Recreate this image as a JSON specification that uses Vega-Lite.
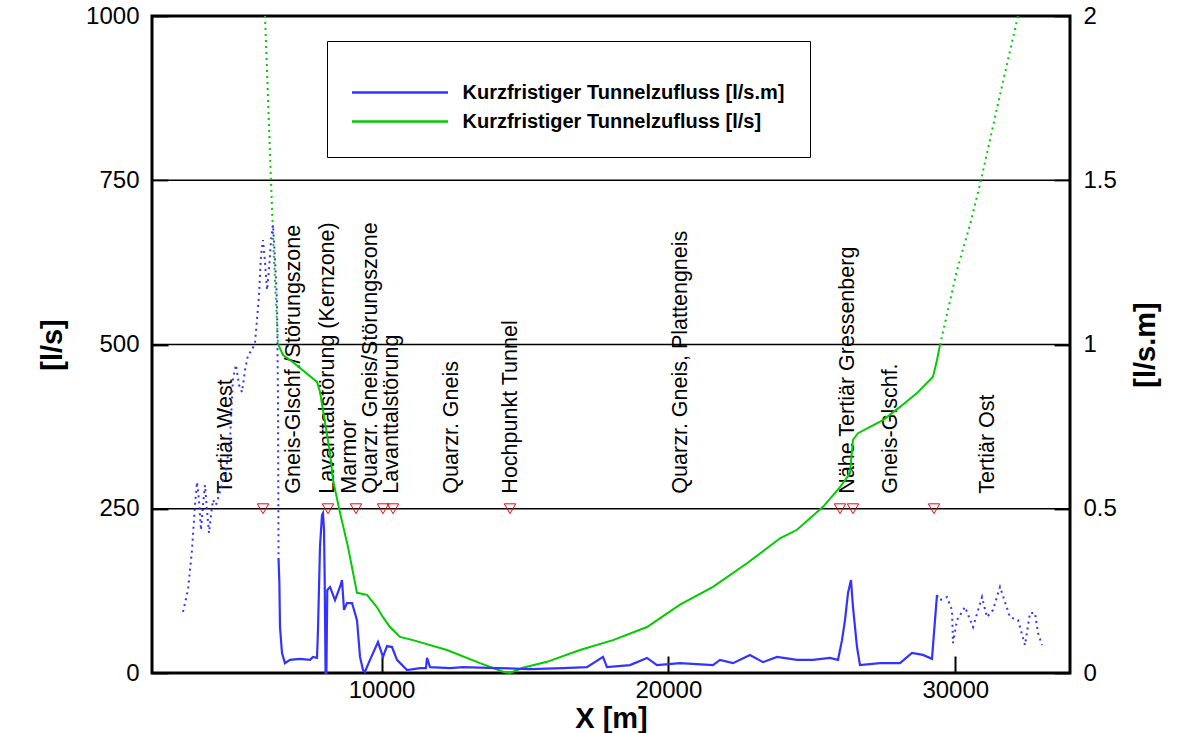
{
  "$schema": "https://vega.github.io/schema/vega-lite/v6.json",
  "width": 918,
  "height": 657,
  "autosize": {"type": "none"},
  "padding": {"left": 152, "top": 16, "right": 132, "bottom": 60},
  "background": "white",
  "datasets": {
    "green": [
      {"x": 5939, "y": 1000, "zone": "Tertiär West"},
      {"x": 6148, "y": 750, "zone": "Tertiär West"},
      {"x": 6253, "y": 629, "zone": "Tertiär West"},
      {"x": 6392, "y": 501, "zone": "Tertiär West"},
      {"x": 6392, "y": 501, "zone": "Kristallin"},
      {"x": 6567, "y": 484, "zone": "Kristallin"},
      {"x": 6915, "y": 473, "zone": "Kristallin"},
      {"x": 7752, "y": 443, "zone": "Kristallin"},
      {"x": 7856, "y": 428, "zone": "Kristallin"},
      {"x": 8205, "y": 335, "zone": "Kristallin"},
      {"x": 8309, "y": 294, "zone": "Kristallin"},
      {"x": 8553, "y": 244, "zone": "Kristallin"},
      {"x": 8832, "y": 192, "zone": "Kristallin"},
      {"x": 9146, "y": 122, "zone": "Kristallin"},
      {"x": 9494, "y": 119, "zone": "Kristallin"},
      {"x": 9843, "y": 100, "zone": "Kristallin"},
      {"x": 10052, "y": 85, "zone": "Kristallin"},
      {"x": 10296, "y": 70, "zone": "Kristallin"},
      {"x": 10645, "y": 55, "zone": "Kristallin"},
      {"x": 11098, "y": 50, "zone": "Kristallin"},
      {"x": 12283, "y": 35, "zone": "Kristallin"},
      {"x": 13433, "y": 15, "zone": "Kristallin"},
      {"x": 14235, "y": 2, "zone": "Kristallin"},
      {"x": 14479, "y": 0, "zone": "Kristallin"},
      {"x": 14932, "y": 8, "zone": "Kristallin"},
      {"x": 15769, "y": 17, "zone": "Kristallin"},
      {"x": 16919, "y": 35, "zone": "Kristallin"},
      {"x": 18070, "y": 50, "zone": "Kristallin"},
      {"x": 19255, "y": 70, "zone": "Kristallin"},
      {"x": 20405, "y": 104, "zone": "Kristallin"},
      {"x": 21555, "y": 131, "zone": "Kristallin"},
      {"x": 22741, "y": 167, "zone": "Kristallin"},
      {"x": 23891, "y": 205, "zone": "Kristallin"},
      {"x": 24484, "y": 218, "zone": "Kristallin"},
      {"x": 25390, "y": 253, "zone": "Kristallin"},
      {"x": 25982, "y": 283, "zone": "Kristallin"},
      {"x": 26331, "y": 304, "zone": "Kristallin"},
      {"x": 26435, "y": 355, "zone": "Kristallin"},
      {"x": 26610, "y": 365, "zone": "Kristallin"},
      {"x": 27481, "y": 385, "zone": "Kristallin"},
      {"x": 28074, "y": 405, "zone": "Kristallin"},
      {"x": 28666, "y": 426, "zone": "Kristallin"},
      {"x": 29224, "y": 451, "zone": "Kristallin"},
      {"x": 29363, "y": 476, "zone": "Kristallin"},
      {"x": 29468, "y": 499, "zone": "Kristallin"},
      {"x": 29468, "y": 499, "zone": "Tertiär Ost"},
      {"x": 30061, "y": 613, "zone": "Tertiär Ost"},
      {"x": 30514, "y": 682, "zone": "Tertiär Ost"},
      {"x": 30897, "y": 750, "zone": "Tertiär Ost"},
      {"x": 31560, "y": 880, "zone": "Tertiär Ost"},
      {"x": 32187, "y": 1000, "zone": "Tertiär Ost"}
    ],
    "blue": [
      {"x": 3081, "y": 0.186, "zone": "Tertiär West"},
      {"x": 3255, "y": 0.253, "zone": "Tertiär West"},
      {"x": 3394, "y": 0.374, "zone": "Tertiär West"},
      {"x": 3499, "y": 0.511, "zone": "Tertiär West"},
      {"x": 3569, "y": 0.581, "zone": "Tertiär West"},
      {"x": 3638, "y": 0.527, "zone": "Tertiär West"},
      {"x": 3708, "y": 0.435, "zone": "Tertiär West"},
      {"x": 3778, "y": 0.511, "zone": "Tertiär West"},
      {"x": 3847, "y": 0.572, "zone": "Tertiär West"},
      {"x": 3917, "y": 0.496, "zone": "Tertiär West"},
      {"x": 3987, "y": 0.426, "zone": "Tertiär West"},
      {"x": 4057, "y": 0.481, "zone": "Tertiär West"},
      {"x": 4126, "y": 0.527, "zone": "Tertiär West"},
      {"x": 4231, "y": 0.511, "zone": "Tertiär West"},
      {"x": 4335, "y": 0.542, "zone": "Tertiär West"},
      {"x": 4440, "y": 0.572, "zone": "Tertiär West"},
      {"x": 4579, "y": 0.618, "zone": "Tertiär West"},
      {"x": 4719, "y": 0.709, "zone": "Tertiär West"},
      {"x": 4823, "y": 0.898, "zone": "Tertiär West"},
      {"x": 4928, "y": 0.938, "zone": "Tertiär West"},
      {"x": 5033, "y": 0.877, "zone": "Tertiär West"},
      {"x": 5137, "y": 0.855, "zone": "Tertiär West"},
      {"x": 5242, "y": 0.922, "zone": "Tertiär West"},
      {"x": 5346, "y": 0.968, "zone": "Tertiär West"},
      {"x": 5486, "y": 0.983, "zone": "Tertiär West"},
      {"x": 5590, "y": 1.005, "zone": "Tertiär West"},
      {"x": 5660, "y": 1.075, "zone": "Tertiär West"},
      {"x": 5730, "y": 1.151, "zone": "Tertiär West"},
      {"x": 5800, "y": 1.272, "zone": "Tertiär West"},
      {"x": 5869, "y": 1.318, "zone": "Tertiär West"},
      {"x": 5939, "y": 1.251, "zone": "Tertiär West"},
      {"x": 6009, "y": 1.166, "zone": "Tertiär West"},
      {"x": 6078, "y": 1.227, "zone": "Tertiär West"},
      {"x": 6148, "y": 1.318, "zone": "Tertiär West"},
      {"x": 6218, "y": 1.364, "zone": "Tertiär West"},
      {"x": 6288, "y": 1.257, "zone": "Tertiär West"},
      {"x": 6357, "y": 1.135, "zone": "Tertiär West"},
      {"x": 6392, "y": 0.831, "zone": "Tertiär West"},
      {"x": 6410, "y": 0.35, "zone": "Tertiär West"},
      {"x": 6410, "y": 0.35, "zone": "Kristallin"},
      {"x": 6440, "y": 0.274, "zone": "Kristallin"},
      {"x": 6462, "y": 0.14, "zone": "Kristallin"},
      {"x": 6532, "y": 0.061, "zone": "Kristallin"},
      {"x": 6636, "y": 0.03, "zone": "Kristallin"},
      {"x": 6810, "y": 0.04, "zone": "Kristallin"},
      {"x": 7159, "y": 0.043, "zone": "Kristallin"},
      {"x": 7508, "y": 0.04, "zone": "Kristallin"},
      {"x": 7612, "y": 0.049, "zone": "Kristallin"},
      {"x": 7752, "y": 0.046, "zone": "Kristallin"},
      {"x": 7786, "y": 0.131, "zone": "Kristallin"},
      {"x": 7856, "y": 0.384, "zone": "Kristallin"},
      {"x": 7926, "y": 0.481, "zone": "Kristallin"},
      {"x": 7961, "y": 0.487, "zone": "Kristallin"},
      {"x": 7996, "y": 0.435, "zone": "Kristallin"},
      {"x": 8020, "y": 0.283, "zone": "Kristallin"},
      {"x": 8050, "y": 0.0, "zone": "Kristallin"},
      {"x": 8080, "y": 0.0, "zone": "Kristallin"},
      {"x": 8110, "y": 0.253, "zone": "Kristallin"},
      {"x": 8205, "y": 0.262, "zone": "Kristallin"},
      {"x": 8379, "y": 0.222, "zone": "Kristallin"},
      {"x": 8553, "y": 0.262, "zone": "Kristallin"},
      {"x": 8623, "y": 0.283, "zone": "Kristallin"},
      {"x": 8693, "y": 0.192, "zone": "Kristallin"},
      {"x": 8797, "y": 0.213, "zone": "Kristallin"},
      {"x": 8972, "y": 0.213, "zone": "Kristallin"},
      {"x": 9146, "y": 0.161, "zone": "Kristallin"},
      {"x": 9251, "y": 0.049, "zone": "Kristallin"},
      {"x": 9355, "y": 0.009, "zone": "Kristallin"},
      {"x": 9420, "y": 0.003, "zone": "Kristallin"},
      {"x": 9599, "y": 0.04, "zone": "Kristallin"},
      {"x": 9878, "y": 0.094, "zone": "Kristallin"},
      {"x": 10052, "y": 0.049, "zone": "Kristallin"},
      {"x": 10192, "y": 0.082, "zone": "Kristallin"},
      {"x": 10366, "y": 0.079, "zone": "Kristallin"},
      {"x": 10540, "y": 0.04, "zone": "Kristallin"},
      {"x": 10889, "y": 0.009, "zone": "Kristallin"},
      {"x": 11342, "y": 0.015, "zone": "Kristallin"},
      {"x": 11550, "y": 0.015, "zone": "Kristallin"},
      {"x": 11586, "y": 0.046, "zone": "Kristallin"},
      {"x": 11691, "y": 0.018, "zone": "Kristallin"},
      {"x": 12388, "y": 0.015, "zone": "Kristallin"},
      {"x": 12841, "y": 0.018, "zone": "Kristallin"},
      {"x": 14026, "y": 0.015, "zone": "Kristallin"},
      {"x": 15176, "y": 0.012, "zone": "Kristallin"},
      {"x": 16327, "y": 0.015, "zone": "Kristallin"},
      {"x": 17163, "y": 0.018, "zone": "Kristallin"},
      {"x": 17721, "y": 0.049, "zone": "Kristallin"},
      {"x": 17860, "y": 0.018, "zone": "Kristallin"},
      {"x": 18662, "y": 0.024, "zone": "Kristallin"},
      {"x": 19255, "y": 0.046, "zone": "Kristallin"},
      {"x": 19603, "y": 0.024, "zone": "Kristallin"},
      {"x": 20405, "y": 0.03, "zone": "Kristallin"},
      {"x": 21555, "y": 0.024, "zone": "Kristallin"},
      {"x": 21799, "y": 0.04, "zone": "Kristallin"},
      {"x": 22252, "y": 0.03, "zone": "Kristallin"},
      {"x": 22845, "y": 0.055, "zone": "Kristallin"},
      {"x": 23298, "y": 0.033, "zone": "Kristallin"},
      {"x": 23786, "y": 0.049, "zone": "Kristallin"},
      {"x": 24484, "y": 0.04, "zone": "Kristallin"},
      {"x": 25041, "y": 0.04, "zone": "Kristallin"},
      {"x": 25634, "y": 0.046, "zone": "Kristallin"},
      {"x": 25912, "y": 0.04, "zone": "Kristallin"},
      {"x": 26052, "y": 0.1, "zone": "Kristallin"},
      {"x": 26157, "y": 0.161, "zone": "Kristallin"},
      {"x": 26262, "y": 0.244, "zone": "Kristallin"},
      {"x": 26366, "y": 0.283, "zone": "Kristallin"},
      {"x": 26435, "y": 0.201, "zone": "Kristallin"},
      {"x": 26575, "y": 0.079, "zone": "Kristallin"},
      {"x": 26679, "y": 0.024, "zone": "Kristallin"},
      {"x": 27377, "y": 0.03, "zone": "Kristallin"},
      {"x": 28074, "y": 0.03, "zone": "Kristallin"},
      {"x": 28492, "y": 0.061, "zone": "Kristallin"},
      {"x": 28875, "y": 0.055, "zone": "Kristallin"},
      {"x": 29189, "y": 0.043, "zone": "Kristallin"},
      {"x": 29259, "y": 0.122, "zone": "Kristallin"},
      {"x": 29363, "y": 0.237, "zone": "Kristallin"},
      {"x": 29363, "y": 0.237, "zone": "Tertiär Ost"},
      {"x": 29468, "y": 0.222, "zone": "Tertiär Ost"},
      {"x": 29712, "y": 0.231, "zone": "Tertiär Ost"},
      {"x": 29886, "y": 0.192, "zone": "Tertiär Ost"},
      {"x": 29921, "y": 0.091, "zone": "Tertiär Ost"},
      {"x": 30061, "y": 0.161, "zone": "Tertiär Ost"},
      {"x": 30340, "y": 0.201, "zone": "Tertiär Ost"},
      {"x": 30619, "y": 0.14, "zone": "Tertiär Ost"},
      {"x": 30932, "y": 0.231, "zone": "Tertiär Ost"},
      {"x": 31106, "y": 0.17, "zone": "Tertiär Ost"},
      {"x": 31316, "y": 0.192, "zone": "Tertiär Ost"},
      {"x": 31560, "y": 0.262, "zone": "Tertiär Ost"},
      {"x": 31908, "y": 0.17, "zone": "Tertiär Ost"},
      {"x": 32187, "y": 0.161, "zone": "Tertiär Ost"},
      {"x": 32431, "y": 0.085, "zone": "Tertiär Ost"},
      {"x": 32606, "y": 0.183, "zone": "Tertiär Ost"},
      {"x": 32780, "y": 0.183, "zone": "Tertiär Ost"},
      {"x": 32885, "y": 0.122, "zone": "Tertiär Ost"},
      {"x": 33024, "y": 0.085, "zone": "Tertiär Ost"}
    ],
    "markers": [
      {"x": 5869, "y": 250}, {"x": 8135, "y": 250}, {"x": 9111, "y": 250},
      {"x": 10052, "y": 250}, {"x": 10401, "y": 250}, {"x": 14479, "y": 250},
      {"x": 25983, "y": 250}, {"x": 26436, "y": 250}, {"x": 29260, "y": 250}
    ],
    "labels": [
      {"x": 4580, "y": 273, "label": "Tertiär West"},
      {"x": 6950, "y": 273, "label": "Gneis-Glschf./Störungszone"},
      {"x": 8135, "y": 273, "label": "Lavanttalstörung (Kernzone)"},
      {"x": 8900, "y": 273, "label": "Marmor"},
      {"x": 9634, "y": 273, "label": "Quarzr. Gneis/Störungszone"},
      {"x": 10366, "y": 273, "label": "Lavanttalstörung"},
      {"x": 12458, "y": 273, "label": "Quarzr. Gneis"},
      {"x": 14514, "y": 273, "label": "Hochpunkt Tunnel"},
      {"x": 20440, "y": 273, "label": "Quarzr. Gneis, Plattengneis"},
      {"x": 26262, "y": 273, "label": "Nähe Tertiär Gressenberg"},
      {"x": 27761, "y": 273, "label": "Gneis-Glschf."},
      {"x": 31142, "y": 273, "label": "Tertiär Ost"}
    ],
    "grid": [{"y": 250}, {"y": 500}, {"y": 750}]
  },
  "layer": [
    {
      "layer": [
        {
          "data": {"name": "grid"},
          "mark": {"type": "rule", "color": "black", "strokeWidth": 1.3},
          "encoding": {
            "y": {"field": "y", "type": "quantitative", "scale": {"domain": [0, 1000], "nice": false, "zero": false},
              "axis": {"orient": "left", "values": [0, 250, 500, 750, 1000], "format": "d", "title": "[l/s]", "tickSize": -16, "tickWidth": 1.8, "labelPadding": 29, "titlePadding": 18}}
          }
        },
        {
          "data": {"name": "labels"},
          "mark": {"type": "text", "angle": 270, "align": "left", "baseline": "middle", "font": "Liberation Sans", "fontSize": 21.5, "color": "black"},
          "encoding": {
            "x": {"field": "x", "type": "quantitative", "scale": {"domain": [2000, 34000], "nice": false, "zero": false},
              "axis": {"orient": "bottom", "values": [10000, 20000, 30000], "format": "d", "title": "X [m]", "tickSize": -17, "tickWidth": 2, "labelPadding": 22, "titlePadding": 2}},
            "y": {"field": "y", "type": "quantitative",
              "axis": {"orient": "left", "values": [0, 250, 500, 750, 1000], "format": "d", "title": "[l/s]", "tickSize": -16, "tickWidth": 1.8, "labelPadding": 29, "titlePadding": 18}},
            "text": {"field": "label"}
          }
        },
        {
          "data": {"name": "markers"},
          "mark": {"type": "point", "shape": "triangle-down", "filled": false, "stroke": "#ff0000", "strokeWidth": 1, "size": 130, "opacity": 1},
          "encoding": {
            "x": {"field": "x", "type": "quantitative",
              "axis": {"orient": "bottom", "values": [10000, 20000, 30000], "format": "d", "title": "X [m]", "tickSize": -17, "tickWidth": 2, "labelPadding": 22, "titlePadding": 2}},
            "y": {"field": "y", "type": "quantitative",
              "axis": {"orient": "left", "values": [0, 250, 500, 750, 1000], "format": "d", "title": "[l/s]", "tickSize": -16, "tickWidth": 1.8, "labelPadding": 29, "titlePadding": 18}}
          }
        },
        {
          "data": {"name": "green"},
          "transform": [{"filter": "datum.zone === 'Kristallin'"}, {"calculate": "'Kurzfristiger Tunnelzufluss [l/s]'", "as": "series"}],
          "mark": {"type": "line", "strokeWidth": 2},
          "encoding": {
            "x": {"field": "x", "type": "quantitative",
              "axis": {"orient": "bottom", "values": [10000, 20000, 30000], "format": "d", "title": "X [m]", "tickSize": -17, "tickWidth": 2, "labelPadding": 22, "titlePadding": 2}},
            "y": {"field": "y", "type": "quantitative",
              "axis": {"orient": "left", "values": [0, 250, 500, 750, 1000], "format": "d", "title": "[l/s]", "tickSize": -16, "tickWidth": 1.8, "labelPadding": 29, "titlePadding": 18}},
            "color": {"field": "series", "type": "nominal", "title": " ", "scale": {"domain": ["Kurzfristiger Tunnelzufluss [l/s.m]", "Kurzfristiger Tunnelzufluss [l/s]"], "range": ["#3333ff", "#00cc00"]}},
            "detail": {"field": "zone"}
          }
        },
        {
          "data": {"name": "green"},
          "transform": [{"filter": "datum.zone !== 'Kristallin'"}, {"calculate": "'Kurzfristiger Tunnelzufluss [l/s]'", "as": "series"}],
          "mark": {"type": "line", "strokeWidth": 2, "strokeDash": [2, 4]},
          "encoding": {
            "x": {"field": "x", "type": "quantitative",
              "axis": {"orient": "bottom", "values": [10000, 20000, 30000], "format": "d", "title": "X [m]", "tickSize": -17, "tickWidth": 2, "labelPadding": 22, "titlePadding": 2}},
            "y": {"field": "y", "type": "quantitative",
              "axis": {"orient": "left", "values": [0, 250, 500, 750, 1000], "format": "d", "title": "[l/s]", "tickSize": -16, "tickWidth": 1.8, "labelPadding": 29, "titlePadding": 18}},
            "color": {"field": "series", "type": "nominal", "title": " ", "scale": {"domain": ["Kurzfristiger Tunnelzufluss [l/s.m]", "Kurzfristiger Tunnelzufluss [l/s]"], "range": ["#3333ff", "#00cc00"]}},
            "detail": {"field": "zone"}
          }
        }
      ]
    },
    {
      "layer": [
        {
          "data": {"name": "blue"},
          "transform": [{"filter": "datum.zone === 'Kristallin'"}, {"calculate": "'Kurzfristiger Tunnelzufluss [l/s.m]'", "as": "series"}],
          "mark": {"type": "line", "strokeWidth": 2.2},
          "encoding": {
            "x": {"field": "x", "type": "quantitative",
              "axis": {"orient": "bottom", "values": [10000, 20000, 30000], "format": "d", "title": "X [m]", "tickSize": -17, "tickWidth": 2, "labelPadding": 22, "titlePadding": 2}},
            "y": {"field": "y", "type": "quantitative", "scale": {"domain": [0, 2], "nice": false, "zero": false},
              "axis": {"orient": "right", "values": [0, 0.5, 1, 1.5, 2], "format": ".1~f", "title": "[l/s.m]", "titleAngle": 270, "tickSize": -16, "tickWidth": 1.8, "labelPadding": 29, "titlePadding": 44}},
            "color": {"field": "series", "type": "nominal", "title": " ", "scale": {"domain": ["Kurzfristiger Tunnelzufluss [l/s.m]", "Kurzfristiger Tunnelzufluss [l/s]"], "range": ["#3333ff", "#00cc00"]}},
            "detail": {"field": "zone"}
          }
        },
        {
          "data": {"name": "blue"},
          "transform": [{"filter": "datum.zone !== 'Kristallin'"}, {"calculate": "'Kurzfristiger Tunnelzufluss [l/s.m]'", "as": "series"}],
          "mark": {"type": "line", "strokeWidth": 2, "strokeDash": [2, 4]},
          "encoding": {
            "x": {"field": "x", "type": "quantitative",
              "axis": {"orient": "bottom", "values": [10000, 20000, 30000], "format": "d", "title": "X [m]", "tickSize": -17, "tickWidth": 2, "labelPadding": 22, "titlePadding": 2}},
            "y": {"field": "y", "type": "quantitative",
              "axis": {"orient": "right", "values": [0, 0.5, 1, 1.5, 2], "format": ".1~f", "title": "[l/s.m]", "titleAngle": 270, "tickSize": -16, "tickWidth": 1.8, "labelPadding": 29, "titlePadding": 44}},
            "color": {"field": "series", "type": "nominal", "title": " ", "scale": {"domain": ["Kurzfristiger Tunnelzufluss [l/s.m]", "Kurzfristiger Tunnelzufluss [l/s]"], "range": ["#3333ff", "#00cc00"]}},
            "detail": {"field": "zone"}
          }
        }
      ]
    }
  ],
  "resolve": {"scale": {"y": "independent"}},
  "config": {
    "font": "Liberation Sans",
    "view": {"stroke": "black", "strokeWidth": 3, "fill": "white"},
    "axis": {
      "domain": false,
      "grid": false,
      "labelFont": "Liberation Sans",
      "labelFontSize": 24,
      "labelColor": "black",
      "labelOverlap": false,
      "labelFlush": false,
      "tickColor": "black",
      "titleFont": "Liberation Sans",
      "titleFontSize": 29,
      "titleFontWeight": "bold",
      "titleColor": "black"
    },
    "legend": {
      "orient": "none",
      "legendX": 175,
      "legendY": 25,
      "titleFontSize": 12,
      "titlePadding": 3,
      "padding": 25,
      "strokeColor": "black",
      "fillColor": "white",
      "labelFont": "Liberation Sans",
      "labelFontSize": 20,
      "labelFontWeight": "bold",
      "labelColor": "black",
      "labelLimit": 0,
      "symbolType": "M-4.8,0H4.8",
      "symbolSize": 400,
      "symbolStrokeWidth": 2.5,
      "symbolOffset": 36.5,
      "labelOffset": 51,
      "rowPadding": 7
    }
  }
}
